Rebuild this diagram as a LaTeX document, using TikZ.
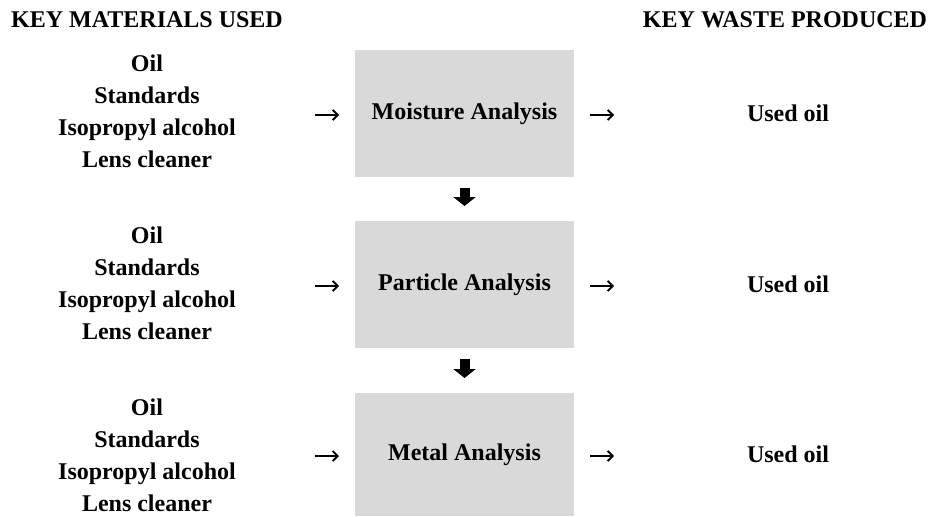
\documentclass[tikz,border=0pt]{standalone}
\usepackage{fontspec}
\setmainfont{Liberation Serif}
\usetikzlibrary{arrows.meta}
\definecolor{boxgray}{HTML}{D9D9D9}
\begin{document}
\begin{tikzpicture}[x=1pt,y=-1pt,
  every node/.style={font=\fontsize{24}{32}\selectfont\bfseries, inner sep=0pt, outer sep=0pt},
  stage/.style={fill=boxgray, minimum width=219pt, minimum height=127pt},
  inputs/.style={align=center},
  sidearrow/.style={line width=1.8pt, -{Straight Barb[length=5pt,width=10pt,line width=1.8pt]}},
  flowdown/.style={line width=10pt, -{Triangle[width=22pt,length=9pt]}, shorten <=11pt, shorten >=15pt}]
\useasboundingbox (0,0) rectangle (933,516);

% column headings
\node[anchor=base] (hin)  at (147,28) {KEY MATERIALS USED};
\node[anchor=base] (hout) at (785,28) {KEY WASTE PRODUCED};

% process stages
\node[stage] (moist) at (464.5,113.5) {Moisture Analysis};
\node[stage] (part)  at (464.5,284.5) {Particle Analysis};
\node[stage, minimum height=123pt] (metal) at (464.5,454.5) {Metal Analysis};

% materials entering each stage
\node[inputs] (in1) at (147,111)   {Oil\\Standards\\Isopropyl alcohol\\Lens cleaner};
\node[inputs] (in2) at (147,283.5) {Oil\\Standards\\Isopropyl alcohol\\Lens cleaner};
\node[inputs] (in3) at (147,455)   {Oil\\Standards\\Isopropyl alcohol\\Lens cleaner};

% waste leaving each stage
\node (out1) at (788,113.5) {Used oil};
\node (out2) at (788,284.5) {Used oil};
\node (out3) at (788,454.5) {Used oil};

% short arrows into and out of each stage
\foreach \s in {moist,part,metal}{
  \draw[sidearrow] ([shift={(-40,1.5)}]\s.west) -- ([shift={(-16,1.5)}]\s.west);
  \draw[sidearrow] ([shift={(16,1.5)}]\s.east) -- ([shift={(40,1.5)}]\s.east);
}

% flow between stages
\draw[flowdown] (moist) -- (part);
\draw[flowdown] (part) -- (metal);
\end{tikzpicture}
\end{document}
